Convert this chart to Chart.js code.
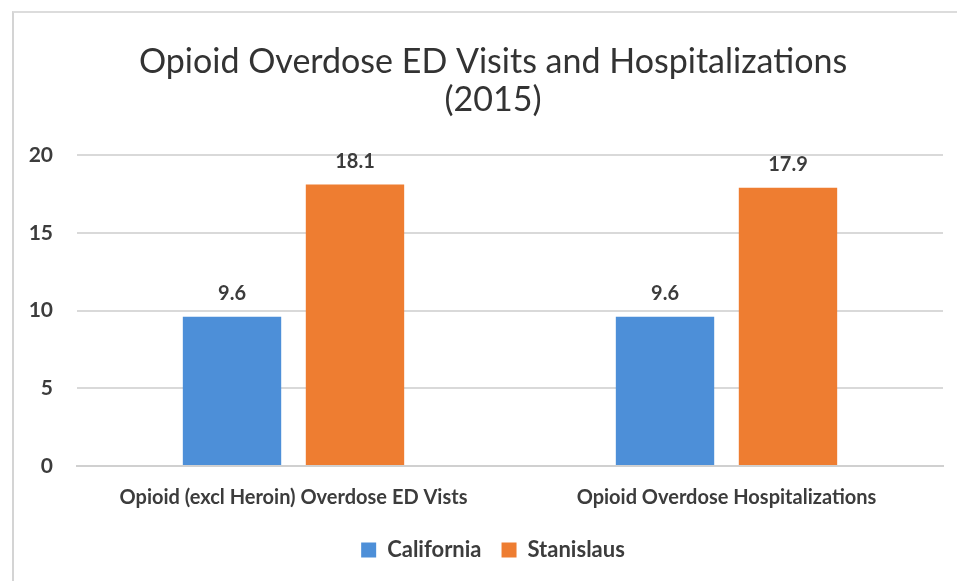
<!DOCTYPE html>
<html>
<head>
<meta charset="utf-8">
<title>Opioid Overdose ED Visits and Hospitalizations (2015)</title>
<script src="https://cdn.jsdelivr.net/npm/chart.js@4/dist/chart.umd.min.js"></script>
<style>
  html, body { margin: 0; padding: 0; background: #fff; }
  #frame {
    position: absolute; left: 12px; top: 11px;
    width: 943px; height: 568px;
    border-left: 2px solid #d4d4d4;
    border-top: 2px solid #dcdcdc;
  }
  #chart { display: block; }
</style>
</head>
<body>
<div id="frame">
  <canvas id="chart" width="943" height="568"></canvas>
</div>
<script>
// chart data
const categories = ['Opioid (excl Heroin) Overdose ED Vists', 'Opioid Overdose Hospitalizations'];
const seriesNames = ['California', 'Stanislaus'];
const californiaValues = [9.6, 9.6];
const stanislausValues = [18.1, 17.9];
const yTicks = [0, 5, 10, 15, 20];

const FONT = "Lato, 'Noto Sans', sans-serif";
const TEXT = '#3c3c3c';

// draws the value above each bar (no datalabels plugin offline)
const barLabels = {
  id: 'barLabels',
  afterDatasetsDraw(chart) {
    const ctx = chart.ctx;
    ctx.save();
    ctx.font = 'bold 20px ' + FONT;
    ctx.fillStyle = TEXT;
    ctx.textAlign = 'center';
    ctx.textBaseline = 'alphabetic';
    chart.data.datasets.forEach((ds, i) => {
      chart.getDatasetMeta(i).data.forEach((bar, j) => {
        ctx.fillText(ds.data[j].toFixed(1), bar.x, bar.y - 17);
      });
    });
    ctx.restore();
  }
};

new Chart(document.getElementById('chart'), {
  type: 'bar',
  data: {
    labels: categories,
    datasets: [
      { label: seriesNames[0], data: californiaValues, backgroundColor: '#4d8fd8' },
      { label: seriesNames[1], data: stanislausValues, backgroundColor: '#ee7d31' }
    ]
  },
  options: {
    responsive: false,
    animation: false,
    // title and legend sit a bit right of the canvas centre in the original
    layout: { padding: { left: 15, right: 0, top: 0, bottom: 10 } },
    datasets: {
      bar: { categoryPercentage: 0.568, barPercentage: 0.8 }
    },
    scales: {
      x: {
        grid: { display: false, drawTicks: false },
        border: { color: '#d0d0d0', width: 2 },
        ticks: {
          color: TEXT, padding: 20,
          font: { family: FONT, size: 20, weight: 'bold' }
        }
      },
      y: {
        min: 0, max: 20,
        afterBuildTicks(axis) { axis.ticks = yTicks.map(v => ({ value: v })); },
        afterFit(axis) { axis.width = 48; },
        grid: { color: '#d9d9d9', lineWidth: 2, drawTicks: false },
        border: { display: false },
        ticks: {
          color: TEXT, padding: 24,
          font: { family: FONT, size: 21, weight: 'bold' }
        }
      },
      // empty spacer on the right so the plot stops short of the edge
      spacer: {
        position: 'right',
        grid: { display: false, drawTicks: false },
        border: { display: false },
        ticks: { display: false },
        afterFit(axis) { axis.width = 14; }
      }
    },
    plugins: {
      title: {
        display: true,
        text: ['Opioid Overdose ED Visits and Hospitalizations', '(2015)'],
        color: '#333333',
        font: { family: FONT, size: 34, weight: 'normal', lineHeight: 1.118 },
        padding: { top: 30, bottom: 36 }
      },
      legend: {
        position: 'bottom',
        labels: {
          color: TEXT,
          boxWidth: 15, boxHeight: 15,
          padding: 9,
          font: { family: FONT, size: 22, weight: 'bold' },
          generateLabels(chart) {
            const items = Chart.defaults.plugins.legend.labels.generateLabels(chart);
            items[0].text += '\u2002';
            return items;
          }
        }
      },
      tooltip: { enabled: false }
    }
  },
  plugins: [barLabels]
});
</script>
</body>
</html>
